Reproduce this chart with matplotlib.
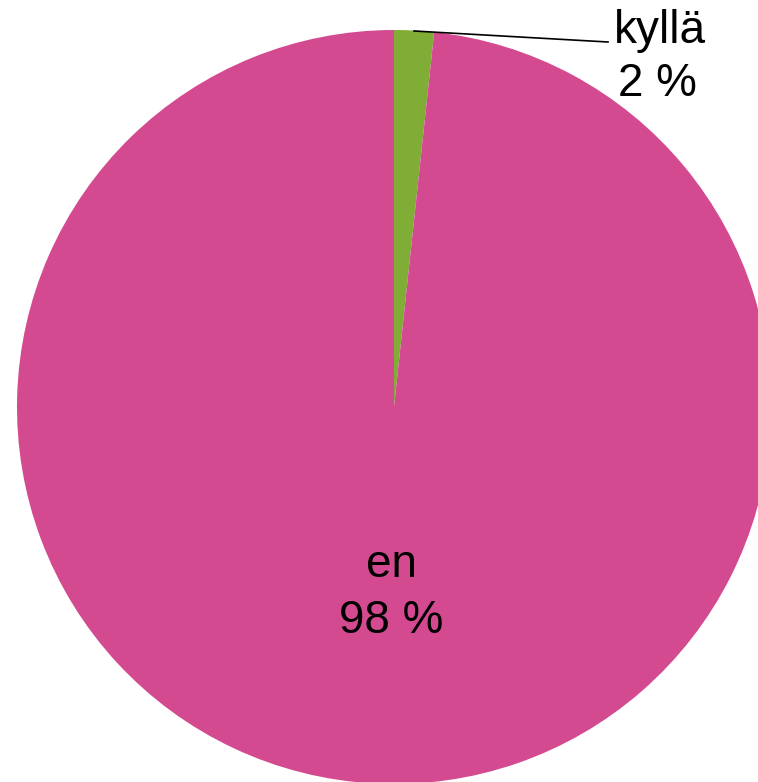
import matplotlib
matplotlib.use("Agg")
import matplotlib.pyplot as plt

labels = ["kyllä", "en"]
values = [1.7, 98.3]
colors = ["#80AD35", "#D44A91"]

W, H = 758, 782
fig = plt.figure(figsize=(W / 100, H / 100), dpi=100)
ax = fig.add_axes([0, 0, 1, 1])
ax.set_xlim(0, W)
ax.set_ylim(0, H)
ax.set_aspect("equal")
ax.axis("off")

cx, cy, r = 394, H - 407, 377
ax.pie(values, colors=colors, startangle=90, counterclock=False,
       center=(cx, cy), radius=r, wedgeprops=dict(linewidth=0))
ax.set_xlim(0, W)
ax.set_ylim(0, H)

font = dict(family="Liberation Sans", fontsize=33, color="black")

# kyllä label with leader line
ax.plot([414, 608], [H - 31, H - 42], color="black", lw=1.2)
ax.text(660, H - 43, labels[0], ha="center", va="baseline", **font)
ax.text(657, H - 96, f"{round(values[0])} %", ha="center", va="baseline", **font)

# en label inside slice
ax.text(392, H - 577, labels[1], ha="center", va="baseline", **font)
ax.text(391, H - 633, f"{round(values[1])} %", ha="center", va="baseline", **font)

fig.savefig("out.png", dpi=100)
